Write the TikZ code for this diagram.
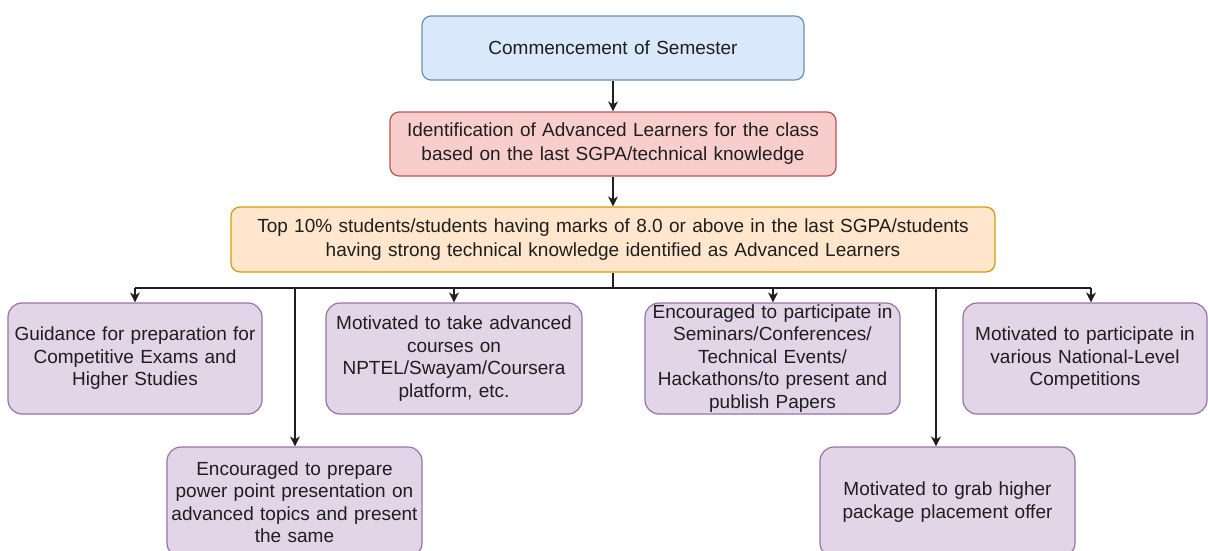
\documentclass[tikz,border=0pt]{standalone}
\usepackage{fontspec}
\setmainfont{Liberation Sans}
\usetikzlibrary{arrows.meta,calc}
\definecolor{bluef}{HTML}{DAE8FC}\definecolor{blued}{HTML}{6C8EBF}
\definecolor{redf}{HTML}{F8CECC}\definecolor{redd}{HTML}{B85450}
\definecolor{orf}{HTML}{FFE6CC}\definecolor{ord}{HTML}{D79B00}
\definecolor{purf}{HTML}{E1D5E7}\definecolor{purd}{HTML}{9673A6}
\definecolor{txt}{HTML}{1E1E1E}
\begin{document}
\begin{tikzpicture}[x=1pt,y=-1pt,
  box/.style={draw, line width=1.2pt, rounded corners=9pt, inner xsep=4pt, inner ysep=0pt,
    align=center, text=txt, font=\fontsize{19}{24}\selectfont},
  pbox/.style={box, draw=purd, fill=purf, rounded corners=14pt, font=\fontsize{19}{22.5}\selectfont},
  conn/.style={line width=1.4pt, draw=black!88},
  arr/.style={conn, -{Stealth[length=10pt,width=10pt,inset=3pt]}}]
\clip (0,0) rectangle (1208,551);
\useasboundingbox (0,0) rectangle (1208,551);

\node[box, draw=blued, fill=bluef, text width=374pt, minimum height=64pt] (start) at (613,48)
  {Commencement of Semester};
\node[box, draw=redd, fill=redf, text width=438pt, minimum height=64pt] (ident) at (613,144)
  {Identification of Advanced Learners for the class\\based on the last SGPA/technical knowledge};
\node[box, draw=ord, fill=orf, text width=756pt, minimum height=65pt] (top) at (613,239.5)
  {Top 10\% students/students having marks of 8.0 or above in the last SGPA/students\\having strong technical knowledge identified as Advanced Learners};

\node[pbox, text width=246pt, minimum height=111pt] (A) at (135,358.5)
  {Guidance for preparation for\\Competitive Exams and\\Higher Studies};
\node[pbox, text width=248pt, minimum height=111pt] (C) at (454,358.5)
  {Motivated to take advanced\\courses on\\NPTEL/Swayam/Coursera\\platform, etc.};
\node[pbox, text width=247pt, minimum height=111pt] (D) at (772.5,358.5)
  {Encouraged to participate in\\Seminars/Conferences/\\Technical Events/\\Hackathons/to present and\\publish Papers};
\node[pbox, text width=236pt, minimum height=111pt] (F) at (1085,358.5)
  {Motivated to participate in\\various National-Level\\Competitions};
\node[pbox, text width=247pt, minimum height=110pt] (B) at (294.5,502)
  {Encouraged to prepare\\power point presentation on\\advanced topics and present\\the same};
\node[pbox, text width=247pt, minimum height=110pt] (E) at (947.5,502)
  {Motivated to grab higher\\package placement offer};

\coordinate (bus) at (0,288);
\coordinate (Atop) at ([xshift=0pt]A.north);
\coordinate (Btop) at ([xshift=0.5pt]B.north);
\coordinate (Ctop) at ([xshift=0pt]C.north);
\coordinate (Dtop) at ([xshift=0.5pt]D.north);
\coordinate (Etop) at ([xshift=-11.5pt]E.north);
\coordinate (Ftop) at ([xshift=6pt]F.north);

\draw[arr] (start.south) -- (ident.north);
\draw[arr] (ident.south) -- (top.north);
\draw[conn] (top.south) -- (bus -| top.south);
\draw[conn] (bus -| Atop) -- (bus -| Ftop);
\draw[arr] (bus -| Atop) -- (Atop);
\draw[arr] (bus -| Btop) -- (Btop);
\draw[arr] (bus -| Ctop) -- (Ctop);
\draw[arr] (bus -| Dtop) -- (Dtop);
\draw[arr] (bus -| Etop) -- (Etop);
\draw[arr] (bus -| Ftop) -- (Ftop);
\end{tikzpicture}
\end{document}
